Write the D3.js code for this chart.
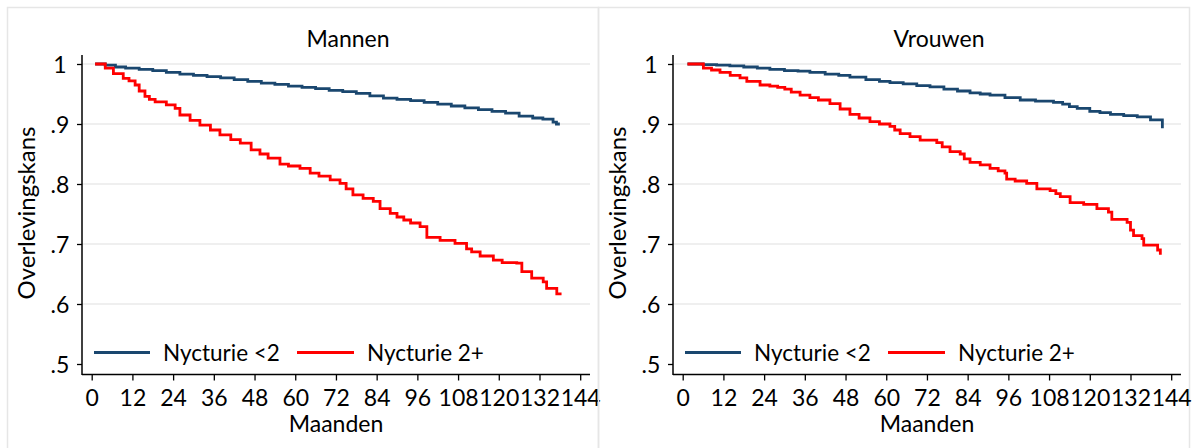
<!DOCTYPE html>
<html>
<head>
<meta charset="utf-8">
<script src="https://cdn.jsdelivr.net/npm/d3@7"></script>
<style>
  body { margin: 0; background: #fff; }
  text { font-family: Lato, "Open Sans", sans-serif; fill: #000; }
</style>
</head>
<body>
<svg id="chart"></svg>
<script>
var width = 1198;
var height = 448;

var panelTitles = ["Mannen", "Vrouwen"];
var seriesNames = ["Nycturie <2", "Nycturie 2+"];
var seriesColors = ["#1a476f", "#ff0000"];
var monthTicks = [0, 12, 24, 36, 48, 60, 72, 84, 96, 108, 120, 132, 144];
var survTicks = [0.5, 0.6, 0.7, 0.8, 0.9, 1];
var survTickLabels = [".5", ".6", ".7", ".8", ".9", "1"];

// Kaplan-Meier steps: [maand, overlevingskans]
var menBelow2 = [[1,1],[4,0.998],[7,0.995],[10,0.993],[14,0.991],[18,0.989],[22,0.986],[26,0.983],[30,0.981],[34,0.979],[38,0.977],[42,0.974],[46,0.971],[50,0.968],[54,0.966],[58,0.963],[62,0.961],[66,0.959],[70,0.956],[74,0.954],[78,0.951],[82,0.947],[86,0.943],[90,0.941],[94,0.939],[98,0.936],[102,0.933],[106,0.930],[110,0.927],[114,0.924],[118,0.921],[122,0.918],[126,0.913],[130,0.910],[133,0.908],[136,0.903],[137,0.900],[138,0.900]];
var menAbove2 = [[1,1],[2.5,1],[4,0.993],[6.4,0.984],[9.3,0.976],[11,0.972],[12.8,0.965],[14,0.955],[15.7,0.946],[17,0.941],[18.7,0.937],[22,0.932],[24.6,0.926],[26,0.915],[29,0.906],[31.9,0.898],[35,0.89],[37.8,0.882],[41,0.874],[43.8,0.868],[47,0.857],[49.6,0.850],[52,0.843],[55.5,0.833],[58,0.830],[61.4,0.826],[64.4,0.818],[67,0.813],[70.3,0.807],[73.2,0.801],[75,0.792],[77,0.782],[80,0.776],[83,0.771],[85,0.759],[88,0.751],[90,0.745],[92,0.740],[94,0.735],[96.8,0.729],[98.8,0.711],[102.7,0.706],[107.1,0.701],[110.5,0.692],[112,0.687],[114.5,0.680],[118.4,0.673],[121,0.669],[125.3,0.668],[126.8,0.654],[129.7,0.643],[133.1,0.637],[134.1,0.626],[137.1,0.617],[138.5,0.617]];
var womenBelow2 = [[1.4,1],[6,0.999],[10,0.998],[13.9,0.997],[18,0.995],[22,0.993],[25.7,0.991],[30,0.989],[34,0.988],[37.5,0.986],[42,0.983],[46,0.981],[49.3,0.978],[54,0.974],[58,0.971],[61.1,0.969],[65,0.967],[69,0.964],[72.9,0.962],[77,0.958],[81,0.955],[84.7,0.952],[87.7,0.950],[90.6,0.948],[95,0.944],[99.5,0.940],[104,0.938],[109.3,0.936],[112,0.933],[114,0.929],[116.3,0.926],[120,0.921],[123,0.919],[126.1,0.916],[130,0.914],[134,0.912],[137.9,0.907],[141.2,0.907],[141.4,0.893]];
var womenAbove2 = [[1.4,1],[4.1,1],[6.1,0.993],[8.5,0.99],[11,0.986],[14,0.981],[16.9,0.977],[18.9,0.971],[22.8,0.965],[25.7,0.963],[28,0.961],[30.1,0.958],[32,0.953],[34.6,0.948],[37.5,0.944],[40,0.940],[43.4,0.934],[46.4,0.925],[49.3,0.916],[52,0.910],[55.2,0.904],[58,0.900],[61.1,0.896],[62.5,0.890],[64.1,0.884],[67,0.879],[70,0.873],[74.9,0.869],[76.5,0.862],[78.8,0.854],[81.8,0.850],[83,0.842],[84.7,0.836],[87.7,0.832],[90.6,0.826],[93,0.822],[95,0.818],[95.5,0.808],[98,0.805],[101.4,0.801],[104.4,0.792],[108.3,0.789],[110,0.784],[111.3,0.779],[114.2,0.769],[118.2,0.766],[122.1,0.759],[125.5,0.753],[126.5,0.741],[131,0.736],[132,0.723],[132.9,0.714],[135.4,0.709],[135.9,0.698],[139.8,0.698],[140,0.690],[140.8,0.682]];

var panelData = [[menBelow2, menAbove2], [womenBelow2, womenAbove2]];

var svg = d3.select("#chart")
    .attr("width", width)
    .attr("height", height);

svg.append("rect")
    .attr("width", width)
    .attr("height", height)
    .attr("fill", "#fff");

var panelW = 591;

var xScale = d3.scaleLinear().domain([0, 144]).range([91.7, 580.2]);
var yScale = d3.scaleLinear().domain([0.5, 1]).range([364, 64]);

var line = d3.line()
    .x(d => xScale(d[0]))
    .y(d => yScale(d[1]))
    .curve(d3.curveStepAfter);

function drawPanel(p) {
  var g = svg.append("g")
      .attr("transform", "translate(" + (p * panelW) + ",0)");

  // panel frame
  g.append("rect")
      .attr("x", 7.5)
      .attr("y", 7.5)
      .attr("width", panelW)
      .attr("height", 470)
      .attr("fill", "none")
      .attr("stroke", "#e6e6e6")
      .attr("stroke-width", 1.5);

  // grid
  g.selectAll(".grid")
    .data(survTicks.filter(v => v > 0.5))
    .enter()
    .append("line")
      .attr("x1", 82)
      .attr("x2", 590)
      .attr("y1", d => yScale(d))
      .attr("y2", d => yScale(d))
      .attr("stroke", "#eaeaea")
      .attr("stroke-width", 1.5);

  // y axis
  var yAxis = d3.axisLeft(yScale)
      .tickValues(survTicks)
      .tickFormat((d, i) => survTickLabels[i])
      .tickSize(5)
      .tickSizeOuter(0);
  var ya = g.append("g")
      .attr("transform", "translate(82,0)")
      .call(yAxis);
  ya.select(".domain").remove();
  ya.selectAll(".tick line").attr("stroke", "#000").attr("stroke-width", 1.3);
  ya.selectAll(".tick text")
      .attr("x", -22)
      .attr("dy", "0.36em")
      .style("text-anchor", "middle")
      .style("font-size", "23px")
      .style("font-family", "Lato");
  g.append("line")
      .attr("x1", 82).attr("x2", 82)
      .attr("y1", 55).attr("y2", 375)
      .attr("stroke", "#000")
      .attr("stroke-width", 1.5);

  // x axis
  var xAxis = d3.axisBottom(xScale)
      .tickValues(monthTicks)
      .tickSize(6)
      .tickSizeOuter(0);
  var xa = g.append("g")
      .attr("transform", "translate(0,374.5)")
      .call(xAxis);
  xa.select(".domain").remove();
  xa.selectAll(".tick line").attr("stroke", "#000").attr("stroke-width", 1.3);
  xa.selectAll(".tick text")
      .attr("y", 15)
      .attr("dy", "0.71em")
      .style("font-size", "23px")
      .style("font-family", "Lato");
  g.append("line")
      .attr("x1", 82).attr("x2", 590)
      .attr("y1", 374.5).attr("y2", 374.5)
      .attr("stroke", "#000")
      .attr("stroke-width", 1.5);

  // survival curves
  panelData[p].forEach(function (s, i) {
    g.append("path")
        .datum(s)
        .attr("d", line)
        .attr("fill", "none")
        .attr("stroke", seriesColors[i])
        .attr("stroke-width", 2.8);
  });

  // legend
  var legendX = [[94, 150, 163], [297, 354, 367]];
  legendX.forEach(function (lx, i) {
    g.append("line")
        .attr("x1", lx[0]).attr("x2", lx[1])
        .attr("y1", 352.5).attr("y2", 352.5)
        .attr("stroke", seriesColors[i])
        .attr("stroke-width", 2.8);
    g.append("text")
        .attr("x", lx[2])
        .attr("y", 360.5)
        .style("font-size", "22.5px")
        .text(seriesNames[i]);
  });

  // titles
  g.append("text")
      .attr("x", 348)
      .attr("y", 47)
      .style("text-anchor", "middle")
      .style("font-size", "23px")
      .text(panelTitles[p]);

  g.append("text")
      .attr("x", 336)
      .attr("y", 431.5)
      .style("text-anchor", "middle")
      .style("font-size", "23px")
      .text("Maanden");

  g.append("text")
      .attr("transform", "translate(35,213) rotate(-90)")
      .style("text-anchor", "middle")
      .style("font-size", "24px")
      .text("Overlevingskans");
}

drawPanel(0);
drawPanel(1);
</script>
</body>
</html>
